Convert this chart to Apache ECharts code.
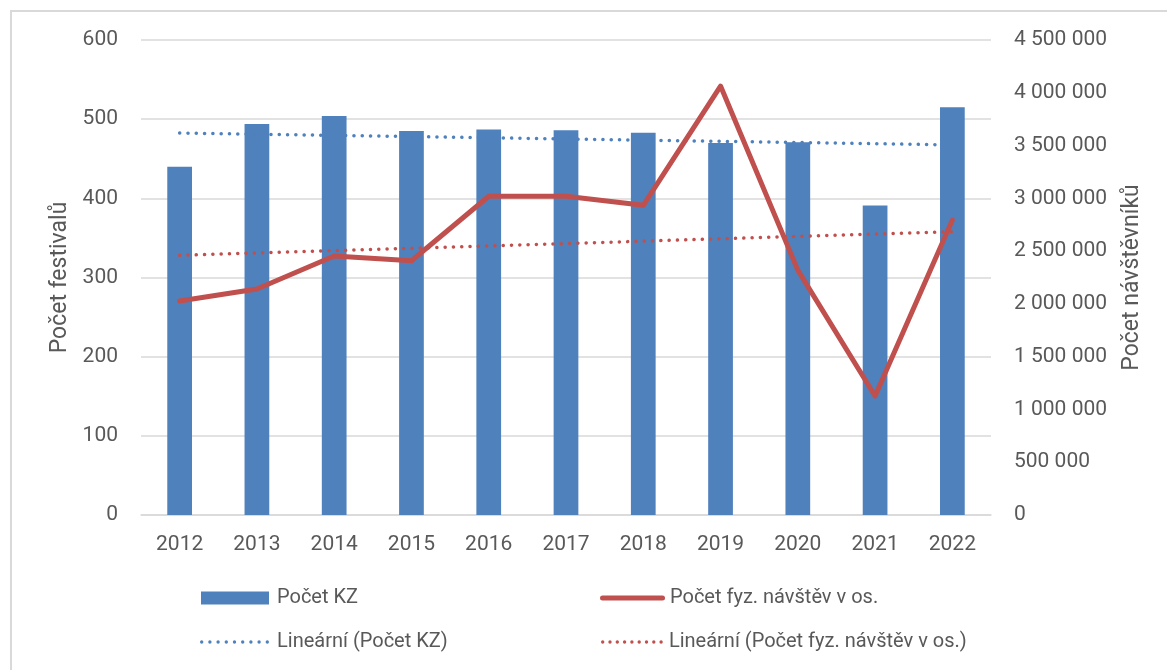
<!DOCTYPE html>
<html>
<head>
<meta charset="utf-8">
<script src="https://cdn.jsdelivr.net/npm/echarts@6/dist/echarts.min.js"></script>
<style>
  html, body { margin: 0; padding: 0; background: #fff; overflow: hidden; }
  #frame { position: absolute; left: 10px; top: 10px; width: 1200px; height: 700px; border: 2px solid #D9D9D9; box-sizing: border-box; }
  #chart { position: absolute; left: 0; top: 0; width: 1167px; height: 670px; }
</style>
</head>
<body>
<div id="frame"></div>
<div id="chart"></div>
<script>
// categories
var years = ['2012', '2013', '2014', '2015', '2016', '2017', '2018', '2019', '2020', '2021', '2022']
// Počet KZ (left axis)
var festivals = [440, 494, 504, 485, 487, 486, 483, 470, 471, 391, 515]
// Počet fyz. návštěv v os. (right axis)
var visits = [2027000, 2141000, 2454000, 2409000, 3020000, 3020000, 2934000, 4064000, 2320000, 1127000, 2795000]
// trend lines, end points
var trendFestivals = [482.5, null, null, null, null, null, null, null, null, null, 467.5]
var trendVisits = [2460000, null, null, null, null, null, null, null, null, null, 2684000]

var blue = '#4F81BD'
var red = '#C0504D'
var grey = '#595959'
var gridColor = '#D9D9D9'
var font = 'Roboto'

function spaced (v) {
  return String(v).replace(/\B(?=(\d{3})+(?!\d))/g, ' ')
}

// legend icon: row of round dots
function dotIcon (n, step, r) {
  var p = 'path://'
  for (var i = 0; i < n; i++) {
    var cx = r + i * step
    p += 'M' + (cx - r) + ',' + r + ' A' + r + ',' + r + ' 0 1,0 ' + (cx + r) + ',' + r +
      ' A' + r + ',' + r + ' 0 1,0 ' + (cx - r) + ',' + r + ' Z '
  }
  return p
}

var chart = echarts.init(document.getElementById('chart'))

var legendText = { color: grey, fontSize: 20, fontFamily: font }

var option = {
  animation: false,
  textStyle: { fontFamily: font },
  grid: { left: 141, right: 176, top: 40, bottom: 155 },
  legend: [
    {
      left: 201, top: 588, padding: 0, itemWidth: 68, itemHeight: 13,
      data: [{ name: 'Počet KZ', icon: 'rect' }],
      textStyle: Object.assign({ padding: [0, 0, 0, 3] }, legendText)
    },
    {
      left: 600, top: 588, padding: 0, itemWidth: 65, itemHeight: 5,
      data: [{ name: 'Počet fyz. návštěv v os.', icon: 'path://M2.5,0 L62.5,0 A2.5,2.5 0 0,1 62.5,5 L2.5,5 A2.5,2.5 0 0,1 2.5,0 Z' }],
      textStyle: legendText
    },
    {
      left: 200, top: 632, padding: 0, itemWidth: 69, itemHeight: 3.4,
      data: [{ name: 'Lineární (Počet KZ)', icon: dotIcon(9, 8.2, 1.7) }],
      textStyle: Object.assign({ padding: [0, 0, 0, 3] }, legendText)
    },
    {
      left: 601, top: 632, padding: 0, itemWidth: 62, itemHeight: 3.4,
      data: [{ name: 'Lineární (Počet fyz. návštěv v os.)', icon: dotIcon(9, 7.3, 1.7) }],
      textStyle: Object.assign({ padding: [0, 0, 0, 1] }, legendText)
    }
  ],
  xAxis: {
    type: 'category',
    data: years,
    boundaryGap: true,
    axisLine: { lineStyle: { color: gridColor, width: 1.5 } },
    axisTick: { show: false },
    axisLabel: { color: grey, fontSize: 21, margin: 19 }
  },
  yAxis: [
    {
      type: 'value',
      min: 0,
      max: 600,
      interval: 100,
      name: 'Počet festivalů',
      nameLocation: 'middle',
      nameRotate: 90,
      nameGap: 68,
      nameTextStyle: { color: grey, fontSize: 23 },
      axisLine: { show: false },
      axisTick: { show: false },
      axisLabel: { color: grey, fontSize: 21, margin: 23 },
      splitLine: { lineStyle: { color: gridColor, width: 1.5 } }
    },
    {
      type: 'value',
      min: 0,
      max: 4500000,
      interval: 500000,
      name: 'Počet návštěvníků',
      nameLocation: 'middle',
      nameRotate: 90,
      nameGap: 130,
      nameTextStyle: { color: grey, fontSize: 23 },
      axisLine: { show: false },
      axisTick: { show: false },
      axisLabel: { color: grey, fontSize: 21, margin: 23, formatter: spaced },
      splitLine: { show: false }
    }
  ],
  series: [
    {
      name: 'Počet KZ',
      type: 'bar',
      data: festivals,
      barWidth: '32%',
      itemStyle: { color: blue },
      z: 1
    },
    {
      name: 'Počet fyz. návštěv v os.',
      type: 'line',
      yAxisIndex: 1,
      data: visits,
      symbol: 'none',
      lineStyle: { color: red, width: 5, cap: 'round', join: 'round' },
      itemStyle: { color: red },
      z: 4
    },
    {
      name: 'Lineární (Počet KZ)',
      type: 'line',
      data: trendFestivals,
      connectNulls: true,
      symbol: 'none',
      lineStyle: { color: blue, width: 3.5, type: [0.1, 8.2], cap: 'round' },
      itemStyle: { color: blue },
      z: 3
    },
    {
      name: 'Lineární (Počet fyz. návštěv v os.)',
      type: 'line',
      yAxisIndex: 1,
      data: trendVisits,
      connectNulls: true,
      symbol: 'none',
      lineStyle: { color: red, width: 3.5, type: [0.1, 8.2], cap: 'round' },
      itemStyle: { color: red },
      z: 3
    }
  ]
}

chart.setOption(option)
</script>
</body>
</html>
